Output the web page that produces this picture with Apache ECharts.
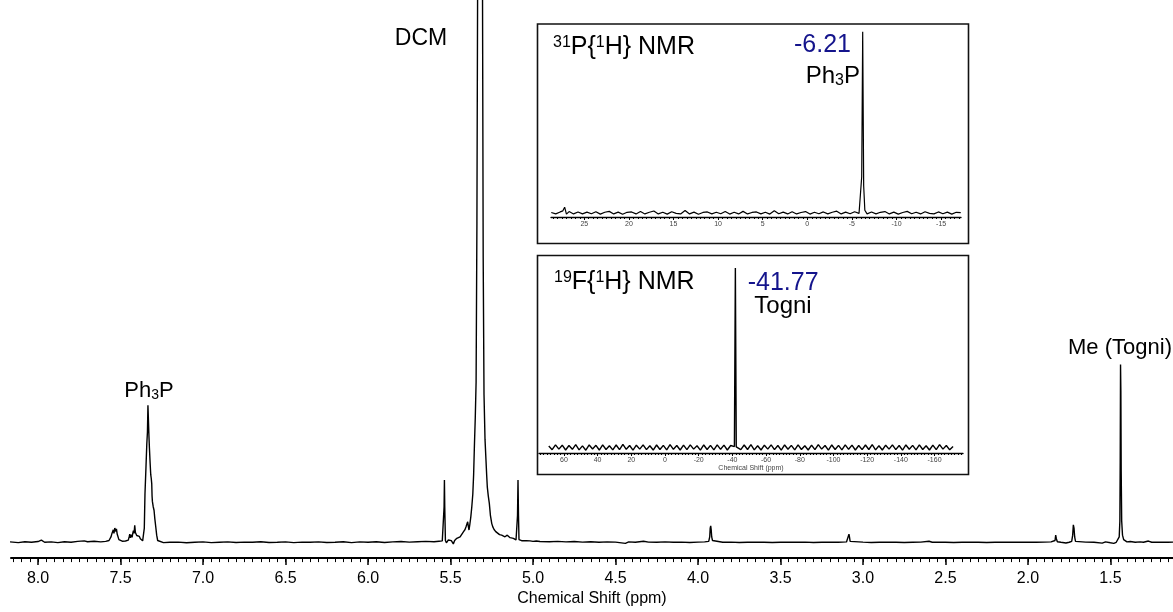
<!DOCTYPE html>
<html>
<head>
<meta charset="utf-8">
<script src="https://cdn.jsdelivr.net/npm/echarts@6/dist/echarts.min.js"></script>
<style>
html,body{margin:0;padding:0;background:#fff;}
#c{width:1173px;height:612px;}
</style>
</head>
<body>
<div id="c"></div>
<script>
// ---------- DATA ----------
// Main 1H spectrum: [ppm, intensity] (Me(Togni) peak = 100)
const protonSpectrum = [
[8.17,0.2],[8.12,-0.2],[8.08,0.3],[8.04,0],[8.00,0.4],[7.98,1.2],[7.96,0],[7.92,0.2],[7.88,-0.2],[7.84,0.3],[7.80,0],[7.76,0.5],[7.72,0.8],[7.70,0.3],[7.66,0.6],[7.62,0.2],[7.59,0.5],[7.57,1],
[7.564,1.5],[7.558,3],[7.552,5],[7.547,4],[7.544,7],[7.54,5],[7.538,4.6],[7.535,8],[7.532,9],[7.528,6],[7.525,7.5],[7.52,4.5],[7.515,3.5],[7.51,1.5],[7.505,0.8],[7.50,0.5],
[7.49,0.6],[7.48,0.3],[7.47,0.7],[7.46,0.5],[7.453,1.2],
[7.448,3],[7.444,4.6],[7.44,2.5],[7.436,4.2],[7.43,2.8],[7.426,5],[7.422,6.5],[7.418,5],[7.414,9.5],[7.41,5.5],[7.406,6],[7.402,3.8],[7.398,4.5],[7.392,2.8],[7.386,3.3],[7.38,2],[7.372,1.5],[7.366,0.8],
[7.362,1],[7.356,8],[7.352,27],[7.346,42],[7.341,55],[7.337,62],[7.334,77],[7.331,76],[7.328,60],[7.325,53],[7.321,45],[7.317,38],[7.314,36],[7.311,33],[7.309,26],[7.307,23],[7.302,20],[7.297,18],[7.292,13],[7.287,9],[7.281,4],[7.275,1],[7.27,0.2],
[7.24,-0.2],[7.2,0],[7.15,0.1],[7.1,-0.3],[7.05,0],[7.0,0.2],[6.95,-0.2],[6.9,0],[6.85,0.2],[6.8,-0.1],[6.75,0.1],[6.7,0],[6.65,0.3],[6.6,-0.1],[6.55,0],[6.5,0.2],[6.45,-0.2],[6.4,0.1],[6.35,0],[6.3,0.2],[6.25,-0.1],[6.2,0],[6.15,0.3],[6.1,-0.2],[6.05,0.2],[6.0,0],[5.95,0.3],[5.9,-0.1],[5.85,0.2],[5.8,0.4],[5.75,0.1],[5.7,0.3],[5.65,0.5],[5.6,0.3],[5.57,0.6],[5.55,0.8],
[5.543,1],[5.539,20],[5.537,35],[5.535,20],[5.531,1],[5.525,-0.3],[5.52,0.8],[5.513,1.3],[5.503,0.4],[5.495,0.9],[5.483,-0.9],[5.475,1],[5.462,2.2],[5.452,2.5],[5.442,3.1],[5.432,4.2],[5.422,5.9],[5.412,7.2],[5.406,8.7],[5.396,11.5],[5.392,9],[5.388,6.9],[5.383,10],[5.377,14.3],[5.371,20],[5.365,27],[5.36,38],[5.355,55],[5.35,70],[5.345,90],[5.34,180],[5.336,305],[5.33,600],[5.321,900],[5.312,600],[5.306,305],[5.302,160],[5.297,83],[5.291,58],[5.285,46],[5.281,38],[5.277,31],[5.271,26],[5.265,22],[5.258,15],[5.25,10.5],[5.243,8.5],[5.236,7.2],[5.226,6],[5.216,5],[5.203,4.3],[5.19,4],[5.18,3.5],[5.17,3.1],[5.163,3.8],[5.156,4],[5.148,3],[5.139,2.6],[5.129,2.4],[5.119,2.2],[5.11,1.8],[5.103,1.3],[5.096,1.2],
[5.094,15],[5.091,35],[5.088,15],[5.085,1.5],[5.079,1.3],[5.069,0.9],[5.059,0.7],[5.04,0.9],[5.018,0.8],[5.0,0.5],[4.98,0.7],[4.958,0.4],
[4.9,0.3],[4.85,0.5],[4.8,0.2],[4.75,0.4],[4.7,0.1],[4.65,0.3],[4.6,0],[4.55,0.2],[4.5,0.1],[4.44,-0.6],[4.42,0.2],[4.38,0],[4.33,0.6],[4.3,0.1],[4.25,0],[4.2,0.2],[4.15,0],[4.1,0.1],[4.05,-0.1],[4.0,0.1],[3.96,0.2],[3.935,0.5],
[3.929,3],[3.926,8],[3.923,9.2],[3.92,7],[3.917,3],[3.912,1],[3.905,0],[3.9,0.3],
[3.85,0],[3.8,0.1],[3.75,-0.1],[3.7,0],[3.65,0.1],[3.6,0],[3.55,-0.1],[3.5,0],[3.45,0.1],[3.4,0],[3.35,0.1],[3.3,-0.1],[3.25,0],[3.2,0.1],[3.15,0],[3.1,0.2],
[3.088,1],[3.085,4.6],[3.082,3],[3.078,0.5],[3.07,0],
[3.0,0.1],[2.95,-0.1],[2.9,0],[2.85,0.1],[2.8,0],[2.75,-0.1],[2.7,0],[2.65,0.1],[2.6,0.6],[2.58,0],[2.55,0.1],[2.5,0],[2.45,-0.1],[2.4,0],[2.35,0.1],[2.3,0],[2.25,-0.1],[2.2,0],[2.15,0.1],[2.1,0],[2.05,0],[2.0,0.1],[1.95,0],[1.9,0.1],[1.86,0.2],
[1.836,1],[1.832,4],[1.828,2],[1.822,0.3],[1.8,0],[1.77,-0.4],[1.75,0],[1.735,0.5],
[1.729,4],[1.725,9.8],[1.721,8],[1.717,3],[1.712,0.5],[1.7,0],[1.65,0.1],[1.6,0],[1.55,-0.5],[1.53,0.2],[1.5,-0.3],[1.48,-0.6],[1.465,0],
[1.455,1],[1.447,3],[1.443,12],[1.441,45],[1.439,100],[1.437,85],[1.435,40],[1.432,12],[1.427,4],[1.42,1.5],[1.41,0.5],[1.4,0.2],[1.38,0.4],[1.35,0],[1.32,0.2],[1.3,0],[1.27,0.7],[1.25,0],[1.2,0.1],[1.15,0],[1.11,0.1]
];

// 31P{1H} inset spectrum: [ppm, intensity]
const phosphorusSpectrum = [
[28.7,0.3],[28.2,-0.5],[27.7,0.6],[27.4,1.2],[27.2,3.2],[27.0,-0.6],[26.7,0.8],[26.2,-0.5],[25.7,0.6],[25.2,-0.5],[24.7,0.5],[24.2,-0.4],[23.7,0.7],[23.2,-0.6],[22.7,0.4],[22.2,0.9],[21.7,-0.5],[21.2,0.5],[20.7,-0.7],[20.2,0.4],[19.7,0.6],[19.2,-0.5],[18.7,0.8],[18.2,-0.5],[17.7,0.4],[17.2,1.1],[16.7,-0.5],[16.2,0.4],[15.7,-0.6],[15.2,0.7],[14.7,-0.2],[14.2,-0.5],[13.7,1.4],[13.2,-0.5],[12.7,0.5],[12.2,-0.7],[11.7,0.3],[11.2,0.6],[10.7,-0.5],[10.2,0.4],[9.7,-0.4],[9.2,0.8],[8.7,-0.6],[8.2,0.4],[7.7,-0.5],[7.2,0.9],[6.7,-0.5],[6.2,0.3],[5.7,0.6],[5.2,-0.5],[4.7,0.4],[4.2,-0.6],[3.7,1.3],[3.2,-0.4],[2.7,0.5],[2.2,-0.5],[1.7,0.7],[1.2,-0.5],[0.7,0.3],[0.2,0.8],[-0.3,-0.6],[-0.8,0.4],[-1.3,-0.4],[-1.8,0.6],[-2.3,-0.5],[-2.8,0.4],[-3.3,1.0],[-3.8,-0.5],[-4.3,0.5],[-4.8,-0.4],[-5.3,0.7],[-5.8,-0.2],[-6.0,0.8],[-6.1,20],[-6.21,100],[-6.32,15],[-6.45,1.5],[-6.7,-0.5],[-7.2,0.6],[-7.7,-0.5],[-8.2,0.4],[-8.7,0.8],[-9.2,-0.5],[-9.7,0.5],[-10.2,-0.6],[-10.7,0.3],[-11.2,0.9],[-11.7,-0.4],[-12.2,0.4],[-12.7,-0.5],[-13.2,0.7],[-13.7,-0.2],[-14.2,-0.5],[-14.7,0.6],[-15.2,-0.4],[-15.7,0.5],[-16.2,-0.6],[-16.7,0.4],[-17.2,0.2]
];

// 19F{1H} inset spectrum: [ppm, intensity]
const fluorineSpectrum = [
[69,0.8],[67,-1.2],[65,1.5],[63,-0.9],[61,1.3],[59,-1.4],[57,1.1],[55,-1.0],[53,1.6],[51,-1.3],[49,0.9],[47,-1.5],[45,1.4],[43,-0.8],[41,1.2],[39,-1.4],[37,1.5],[35,-1.1],[33,1.0],[31,-1.3],[29,1.4],[27,-1.2],[25,1.7],[23,-1.0],[21,1.1],[19,-1.5],[17,1.3],[15,-0.9],[13,1.5],[11,-1.2],[9,1.0],[7,-1.4],[5,1.4],[3,-1.1],[1,1.2],[-1,-1.3],[-3,1.6],[-5,-1.0],[-7,1.1],[-9,-1.4],[-11,1.3],[-13,-1.2],[-15,1.5],[-17,-0.9],[-19,1.0],[-21,-1.5],[-23,1.4],[-25,-1.1],[-27,1.2],[-29,-1.3],[-31,1.5],[-33,-1.0],[-35,1.3],[-37,-1.4],[-39,1.1],[-41.2,0.5],[-41.77,100],[-42.3,0.3],[-45,-1.2],[-47,1.4],[-49,-1.1],[-51,1.6],[-53,-1.3],[-55,1.0],[-57,-1.4],[-59,1.3],[-61,-0.9],[-63,1.5],[-65,-1.2],[-67,1.1],[-69,-1.5],[-71,1.4],[-73,-1.0],[-75,1.2],[-77,-1.3],[-79,1.5],[-81,-1.1],[-83,1.0],[-85,-1.4],[-87,1.3],[-89,-1.2],[-91,1.6],[-93,-0.9],[-95,1.1],[-97,-1.5],[-99,1.4],[-101,-1.1],[-103,1.2],[-105,-1.3],[-107,1.5],[-109,-1.0],[-111,1.3],[-113,-1.4],[-115,1.1],[-117,-1.2],[-119,1.4],[-121,-1.1],[-123,1.6],[-125,-1.3],[-127,1.0],[-129,-1.4],[-131,1.3],[-133,-0.9],[-135,1.5],[-137,-1.2],[-139,1.1],[-141,-1.5],[-143,1.4],[-145,-1.0],[-147,1.2],[-149,-1.3],[-151,1.5],[-153,-1.1],[-155,1.0],[-157,-1.4],[-159,1.3],[-161,-1.2],[-163,1.6],[-165,-0.9],[-167,1.1],[-169,-1.3],[-171,0.6]
];

// Tick labels
const mainTickLabels = [8.0,7.5,7.0,6.5,6.0,5.5,5.0,4.5,4.0,3.5,3.0,2.5,2.0,1.5];
const pTickLabels = [25,20,15,10,5,0,-5,-10,-15];
const fTickLabels = [60,40,20,0,-20,-40,-60,-80,-100,-120,-140,-160];

// ---------- helpers ----------
function steps(from, to, step){ const out=[]; const n=Math.round((from-to)/step); for(let i=0;i<=n;i++){ out.push(Math.round((from-i*step)*1000)/1000); } return out; }
const FONT = "'Liberation Sans', Arial, sans-serif";

const chart = echarts.init(document.getElementById('c'), null, {renderer:'canvas'});

function majorAxis(grid, min, max, ticks, fmt, len, fs, margin, extra){
  return Object.assign({
    type:'value', gridIndex:grid, min:min, max:max, inverse:true, position:'bottom',
    axisLine:{show:true, onZero:false, lineStyle:{color:'#000', width: grid===0?2:1.3}},
    axisTick:{show:true, customValues:ticks, length:len, lineStyle:{color:'#000', width: grid===0?1.5:1}},
    axisLabel:{show:true, customValues:ticks, formatter:fmt, color: grid===0?'#000':'#444', fontSize:fs, fontFamily:FONT, margin:margin},
    splitLine:{show:false}
  }, extra||{});
}
function minorAxis(grid, min, max, ticks, len){
  return {
    type:'value', gridIndex:grid, min:min, max:max, inverse:true, position:'bottom',
    axisLine:{show:false, onZero:false},
    axisTick:{show:true, customValues:ticks, length:len, lineStyle:{color:'#000', width:1}},
    axisLabel:{show:false}, splitLine:{show:false}
  };
}
function richText(x, y, text, size, subSize, align, color){
  return {type:'text', x:x, y:y, z:5, style:{
    text:text, fontSize:size, fontFamily:FONT, fill:color||'#000', lineHeight:size,
    align:align, verticalAlign:'middle',
    rich:{
      sup:{fontSize:subSize, fontFamily:FONT, fill:color||'#000', verticalAlign:'top', lineHeight:10},
      sub:{fontSize:subSize, fontFamily:FONT, fill:color||'#000', verticalAlign:'bottom', lineHeight:8}
    }}};
}

const option = {
  animation:false,
  backgroundColor:'#fff',
  grid:[
    {left:11, right:0, top:0, bottom:47},
    {left:551, right:212, top:31.7, bottom:395},
    {left:539, right:210, top:268, bottom:159}
  ],
  xAxis:[
    majorAxis(0, 1.121, 8.164, mainTickLabels, v=>v.toFixed(1), 7, 16, 12,
      {name:'Chemical Shift (ppm)', nameLocation:'middle', nameGap:31, nameTextStyle:{color:'#000', fontSize:16, fontFamily:FONT}}),
    minorAxis(0, 1.121, 8.164, steps(8.15, 1.15, 0.05), 4),
    majorAxis(1, -17.23, 28.73, pTickLabels, v=>String(v), 3, 7, 4),
    minorAxis(1, -17.23, 28.73, steps(28.5, -17, 0.5), 2),
    majorAxis(2, -176.9, 74.8, fTickLabels, v=>String(v), 3, 7, 4,
      {name:'Chemical Shift (ppm)', nameLocation:'middle', nameGap:11, nameTextStyle:{color:'#444', fontSize:7, fontFamily:FONT}}),
    minorAxis(2, -176.9, 74.8, steps(74, -176, 2), 2)
  ],
  yAxis:[
    {type:'value', gridIndex:0, min:-8.9, max:305, show:false, splitLine:{show:false}},
    {type:'value', gridIndex:1, min:-2.2, max:100, show:false, splitLine:{show:false}},
    {type:'value', gridIndex:2, min:-3.06, max:100, show:false, splitLine:{show:false}}
  ],
  series:[
    {type:'line', xAxisIndex:0, yAxisIndex:0, data:protonSpectrum, showSymbol:false, clip:true,
     lineStyle:{color:'#000', width:1.4}, z:3},
    {type:'line', xAxisIndex:2, yAxisIndex:1, data:phosphorusSpectrum, showSymbol:false, clip:true,
     lineStyle:{color:'#000', width:1.2}, z:3},
    {type:'line', xAxisIndex:4, yAxisIndex:2, data:fluorineSpectrum, showSymbol:false, clip:true,
     lineStyle:{color:'#000', width:1.4}, z:3}
  ],
  graphic:[
    {type:'rect', shape:{x:537.5, y:24, width:431, height:219.5}, style:{fill:'none', stroke:'#111', lineWidth:1.6}, z:1},
    {type:'rect', shape:{x:537.5, y:255.5, width:431, height:219}, style:{fill:'none', stroke:'#111', lineWidth:1.6}, z:1},
    // main annotations
    {type:'text', x:421, y:39, z:5, style:{text:'DCM', fontSize:23, fontFamily:FONT, fill:'#000', align:'center', verticalAlign:'middle'}},
    richText(149, 391, 'Ph{sub|3}P', 22, 14, 'center'),
    {type:'text', x:1120, y:348, z:5, style:{text:'Me (Togni)', fontSize:22, fontFamily:FONT, fill:'#000', align:'center', verticalAlign:'middle'}},
    // 31P inset texts
    richText(553, 47.5, '{sup|31}P{{sup|1}H} NMR', 25, 16, 'left'),
    {type:'text', x:851, y:45, z:5, style:{text:'-6.21', fontSize:25, fontFamily:FONT, fill:'#14148c', align:'right', verticalAlign:'middle'}},
    richText(860, 76.7, 'Ph{sub|3}P', 24, 16, 'right'),
    // 19F inset texts
    richText(554, 282.5, '{sup|19}F{{sup|1}H} NMR', 25, 16, 'left'),
    {type:'text', x:747.7, y:283.3, z:5, style:{text:'-41.77', fontSize:25, fontFamily:FONT, fill:'#14148c', align:'left', verticalAlign:'middle'}},
    {type:'text', x:754.3, y:306, z:5, style:{text:'Togni', fontSize:24, fontFamily:FONT, fill:'#000', align:'left', verticalAlign:'middle'}}
  ]
};
chart.setOption(option);
</script>
</body>
</html>
